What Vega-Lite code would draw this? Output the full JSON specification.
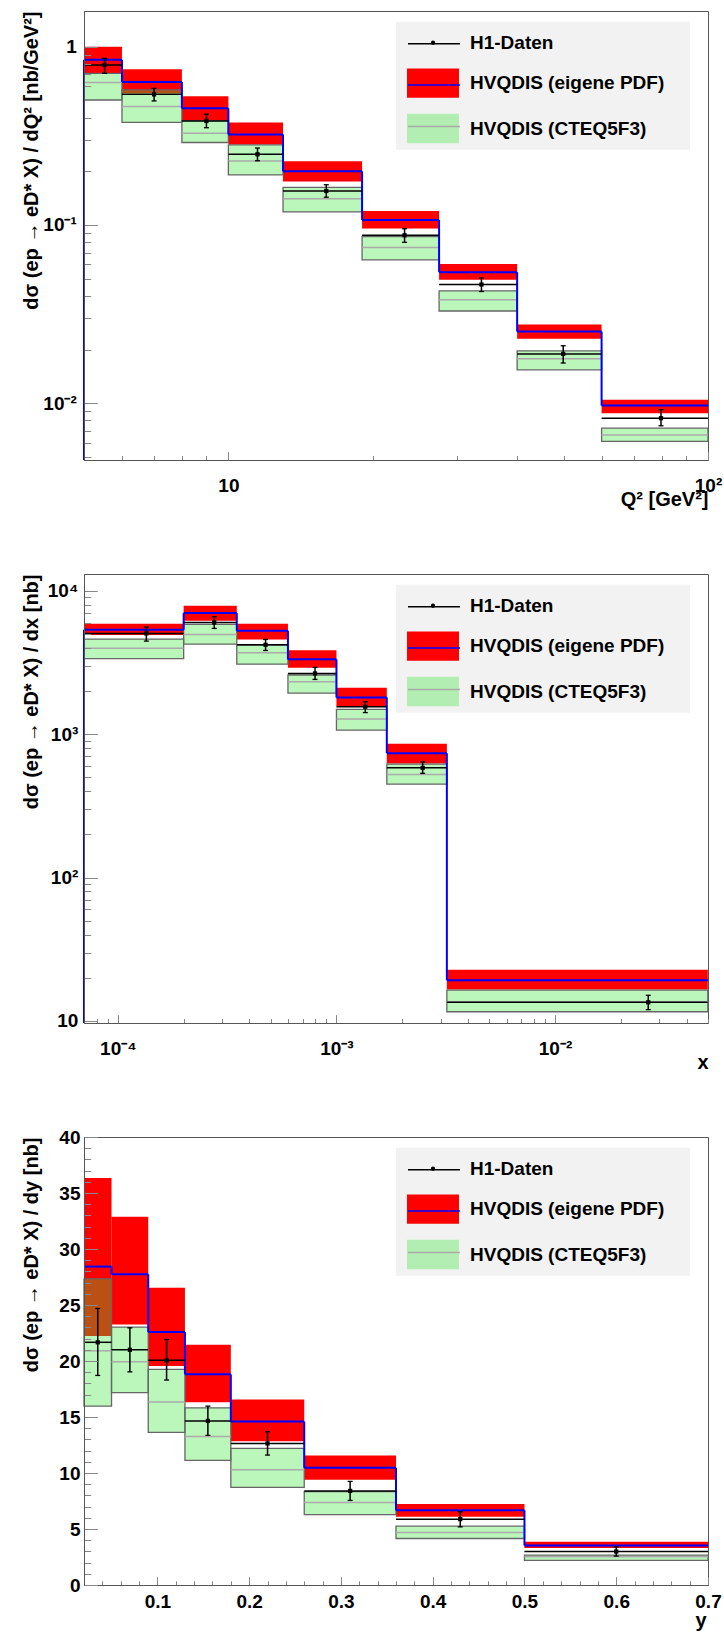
{
  "$schema": "https://vega.github.io/schema/vega-lite/v6.json",
  "autosize": {"type": "pad"},
  "padding": {"left": 20, "top": 10, "right": 0, "bottom": 0},
  "background": "white",
  "spacing": 114,
  "bounds": "flush",
  "resolve": {"scale": {"fill": "independent", "stroke": "independent"}, "legend": {"fill": "independent", "stroke": "independent"}},
  "config": {
    "view": {"stroke": "#555555", "strokeWidth": 1},
    "axis": {"labelFont": "Liberation Sans", "labelFontSize": 19, "labelFontWeight": "bold", "labelColor": "#000000", "titleFont": "Liberation Sans", "titleFontSize": 20, "titleFontWeight": "bold", "titleColor": "#000000", "grid": false, "domainColor": "#555555", "tickColor": "#888888", "tickWidth": 1, "labelFlush": false, "labelOverlap": false, "labelBound": false},
    "legend": {"labelFont": "Liberation Sans", "labelFontSize": 19, "labelFontWeight": "bold", "labelColor": "#000000", "labelLimit": 0, "padding": 6, "rowPadding": 15.4, "symbolSize": 900, "symbolOffset": 16, "labelOffset": 22, "titleFont": "Liberation Sans", "titleFontWeight": "bold"}
  },
  "vconcat": [
    {
      "width": 624, "height": 449,
      "data": {"values": [
        {"lo": 5, "hi": 6, "xc": 5.52, "rl": 0.709, "rh": 1.0, "b": 0.844, "gl": 0.502, "gh": 0.709, "gc": 0.629, "d": 0.789, "el": 0.709, "eh": 0.86},
        {"lo": 6, "hi": 8, "xc": 7.0, "rl": 0.547, "rh": 0.746, "b": 0.634, "gl": 0.376, "gh": 0.572, "gc": 0.461, "d": 0.54, "el": 0.496, "eh": 0.584},
        {"lo": 8, "hi": 10, "xc": 9.0, "rl": 0.388, "rh": 0.527, "b": 0.451, "gl": 0.29, "gh": 0.385, "gc": 0.327, "d": 0.383, "el": 0.351, "eh": 0.418},
        {"lo": 10, "hi": 13, "xc": 11.5, "rl": 0.283, "rh": 0.376, "b": 0.322, "gl": 0.191, "gh": 0.281, "gc": 0.2285, "d": 0.249, "el": 0.229, "eh": 0.27},
        {"lo": 13, "hi": 19, "xc": 16.0, "rl": 0.175, "rh": 0.2275, "b": 0.2, "gl": 0.1183, "gh": 0.1626, "gc": 0.14, "d": 0.155, "el": 0.143, "eh": 0.168},
        {"lo": 19, "hi": 27.5, "xc": 23.3, "rl": 0.0954, "rh": 0.1198, "b": 0.1067, "gl": 0.0637, "gh": 0.086, "gc": 0.0746, "d": 0.0875, "el": 0.0799, "eh": 0.0952},
        {"lo": 27.5, "hi": 40, "xc": 33.7, "rl": 0.0492, "rh": 0.0604, "b": 0.0543, "gl": 0.0329, "gh": 0.0427, "gc": 0.038, "d": 0.0463, "el": 0.0423, "eh": 0.0504},
        {"lo": 40, "hi": 60, "xc": 49.9, "rl": 0.023, "rh": 0.0276, "b": 0.0252, "gl": 0.01538, "gh": 0.01965, "gc": 0.01774, "d": 0.0189, "el": 0.0168, "eh": 0.021},
        {"lo": 60, "hi": 100, "xc": 79.8, "rl": 0.00879, "rh": 0.01044, "b": 0.0097, "gl": 0.0061, "gh": 0.00724, "gc": 0.00664, "d": 0.00824, "el": 0.00747, "eh": 0.0092}
      ]},
      "layer": [
        {"mark": {"type": "rect", "strokeWidth": 0},
         "encoding": {
           "x": {"field": "lo", "type": "quantitative", "scale": {"type": "log", "domain": [5, 100], "nice": false},
                 "axis": {"title": "Q² [GeV²]", "values": [6,7,8,9,10,20,30,40,50,60,70,80,90,100], "labelExpr": "datum.value == 10 ? '10' : datum.value == 100 ? '10²' : ''", "labelOverlap": false, "tickSize": {"condition": {"test": "datum.value == 10 || datum.value == 100", "value": -8.3}, "value": -4.5}, "labelPadding": 25, "labelBaseline": "top", "titleAnchor": "end", "titleAlign": "right", "titleBaseline": "alphabetic", "titleX": 624, "titleY": 45.3, "zindex": 1}},
           "x2": {"field": "hi"},
           "y": {"field": "rl", "type": "quantitative", "scale": {"type": "log", "domain": [0.0048, 1.585], "nice": false},
                 "axis": {"title": "dσ (ep → eD* X) / dQ² [nb/GeV²]", "values": [0.005,0.006,0.007,0.008,0.009,0.01,0.02,0.03,0.04,0.05,0.06,0.07,0.08,0.09,0.1,0.2,0.3,0.4,0.5,0.6,0.7,0.8,0.9,1], "labelExpr": "datum.value == 1 ? '1' : datum.value == 0.1 ? '10⁻¹' : datum.value == 0.01 ? '10⁻²' : ''", "labelOverlap": false, "tickSize": {"condition": {"test": "datum.value == 1 || datum.value == 0.1 || datum.value == 0.01", "value": -13.3}, "value": -6.7}, "labelPadding": 21, "titleAnchor": "end", "titleAlign": "right", "titleBaseline": "alphabetic", "titleAngle": -90, "titleX": -47, "titleY": 0, "zindex": 1}},
           "y2": {"field": "rh"},
           "fill": {"datum": "HVQDIS (eigene PDF)", "type": "nominal",
                    "scale": {"domain": ["H1-Daten", "HVQDIS (eigene PDF)", "HVQDIS (CTEQ5F3)"], "range": ["#000000", "#ff0000", "#3de53d"]},
                    "legend": {"title": "M", "titleOrient": "right", "titleOpacity": 0, "titleFontSize": 24, "titlePadding": 0, "orient": "none", "legendX": 312, "legendY": 10.7, "fillColor": "#f2f2f2", "zindex": 2, "symbolStrokeWidth": 0,
                               "encode": {"symbols": {"update": {"shape": {"signal": "datum.value === 'H1-Daten' ? 'M-0.14,0A0.14,0.14,0,1,1,0.14,0A0.14,0.14,0,1,1,-0.14,0Z' : 'M-1.733,-0.977H1.733V0.977H-1.733Z'"}, "fillOpacity": {"signal": "datum.value === 'HVQDIS (CTEQ5F3)' ? 0.35 : 1"}, "strokeWidth": {"value": 0}}}}}}
         }},
        {"mark": {"type": "rect", "fillOpacity": 0.35, "stroke": "#666666", "strokeWidth": 1.3},
         "encoding": {"x": {"field": "lo", "type": "quantitative"}, "x2": {"field": "hi"}, "y": {"field": "gl", "type": "quantitative"}, "y2": {"field": "gh"}, "fill": {"datum": "HVQDIS (CTEQ5F3)", "type": "nominal"}}},
        {"mark": {"type": "rule", "strokeWidth": 1.5},
         "encoding": {"x": {"field": "lo", "type": "quantitative"}, "x2": {"field": "hi"}, "y": {"field": "gc", "type": "quantitative"},
           "stroke": {"datum": "L3", "type": "nominal", "scale": {"domain": ["L1", "L2", "L3"], "range": ["#000000", "#0000ff", "#aaaaaa"]},
                      "legend": {"title": null, "orient": "none", "legendX": 312, "legendY": 10.7, "zindex": 3, "labelExpr": "''", "symbolType": "M-1.733,0H1.733", "symbolStrokeWidth": 1.5}}}},
        {"mark": {"type": "rule", "strokeWidth": 2},
         "encoding": {"x": {"field": "lo", "type": "quantitative"}, "x2": {"field": "hi"}, "y": {"field": "b", "type": "quantitative"}, "stroke": {"datum": "L2", "type": "nominal"}}},
        {"transform": [{"window": [{"op": "lead", "field": "b", "as": "nb"}], "sort": [{"field": "lo"}]}, {"filter": "isValid(datum.nb)"}],
         "mark": {"type": "rule", "strokeWidth": 2},
         "encoding": {"x": {"field": "hi", "type": "quantitative"}, "y": {"field": "b", "type": "quantitative"}, "y2": {"field": "nb"}, "stroke": {"datum": "L2", "type": "nominal"}}},
        {"transform": [{"window": [{"op": "row_number", "as": "rn"}], "sort": [{"field": "lo"}]}, {"filter": "datum.rn == 1"}],
         "mark": {"type": "rule", "strokeWidth": 2},
         "encoding": {"x": {"field": "lo", "type": "quantitative"}, "y": {"field": "b", "type": "quantitative"}, "y2": {"datum": 0.0048}, "stroke": {"datum": "L2", "type": "nominal"}}},
        {"mark": {"type": "rule", "strokeWidth": 1.5},
         "encoding": {"x": {"field": "lo", "type": "quantitative"}, "x2": {"field": "hi"}, "y": {"field": "d", "type": "quantitative"}, "stroke": {"datum": "L1", "type": "nominal"}}},
        {"mark": {"type": "rule", "strokeWidth": 1.5},
         "encoding": {"x": {"field": "xc", "type": "quantitative"}, "y": {"field": "el", "type": "quantitative"}, "y2": {"field": "eh"}, "stroke": {"datum": "L1", "type": "nominal"}}},
        {"mark": {"type": "tick", "orient": "horizontal", "size": 5, "thickness": 1.3, "color": "#000000", "opacity": 1},
         "encoding": {"x": {"field": "xc", "type": "quantitative"}, "y": {"field": "el", "type": "quantitative"}}},
        {"mark": {"type": "tick", "orient": "horizontal", "size": 5, "thickness": 1.3, "color": "#000000", "opacity": 1},
         "encoding": {"x": {"field": "xc", "type": "quantitative"}, "y": {"field": "eh", "type": "quantitative"}}},
        {"mark": {"type": "point", "shape": "square", "size": 18, "filled": true, "opacity": 1},
         "encoding": {"x": {"field": "xc", "type": "quantitative"}, "y": {"field": "d", "type": "quantitative"}, "fill": {"datum": "H1-Daten", "type": "nominal"}}}
      ]
    },
    {
      "width": 624, "height": 449,
      "data": {"values": [
        {"lo": 0.00007, "hi": 0.0002, "xc": 0.000135, "rl": 4909, "rh": 5888, "b": 5347, "gl": 3357, "gh": 4603, "gc": 3963, "d": 5037, "el": 4452, "eh": 5578},
        {"lo": 0.0002, "hi": 0.00035, "xc": 0.000276, "rl": 6178, "rh": 7852, "b": 6982, "gl": 4245, "gh": 5822, "gc": 4955, "d": 6012, "el": 5458, "eh": 6585},
        {"lo": 0.00035, "hi": 0.0006, "xc": 0.000474, "rl": 4571, "rh": 5888, "b": 5263, "gl": 3076, "gh": 4178, "gc": 3690, "d": 4198, "el": 3831, "eh": 4571},
        {"lo": 0.0006, "hi": 0.001, "xc": 0.000798, "rl": 2904, "rh": 3837, "b": 3321, "gl": 1933, "gh": 2583, "gc": 2318, "d": 2650, "el": 2407, "eh": 2919},
        {"lo": 0.001, "hi": 0.0017, "xc": 0.001355, "rl": 1567, "rh": 2105, "b": 1802, "gl": 1067, "gh": 1487, "gc": 1274, "d": 1553, "el": 1413, "eh": 1679},
        {"lo": 0.0017, "hi": 0.0032, "xc": 0.00248, "rl": 624, "rh": 857, "b": 737, "gl": 448, "gh": 618, "gc": 524, "d": 582, "el": 533, "eh": 640},
        {"lo": 0.0032, "hi": 0.05, "xc": 0.0267, "rl": 16.6, "rh": 22.8, "b": 19.2, "gl": 11.6, "gh": 16.4, "gc": 13.6, "d": 13.5, "el": 12.0, "eh": 15.1}
      ]},
      "layer": [
        {"mark": {"type": "rect", "strokeWidth": 0},
         "encoding": {
           "x": {"field": "lo", "type": "quantitative", "scale": {"type": "log", "domain": [0.00007, 0.0501], "nice": false},
                 "axis": {"title": "x", "values": [0.00008,0.00009,0.0001,0.0002,0.0003,0.0004,0.0005,0.0006,0.0007,0.0008,0.0009,0.001,0.002,0.003,0.004,0.005,0.006,0.007,0.008,0.009,0.01,0.02,0.03,0.04,0.05], "labelExpr": "datum.value == 0.0001 ? '10⁻⁴' : datum.value == 0.001 ? '10⁻³' : datum.value == 0.01 ? '10⁻²' : ''", "labelOverlap": false, "tickSize": {"condition": {"test": "datum.value == 0.0001 || datum.value == 0.001 || datum.value == 0.01", "value": -8.3}, "value": -4.5}, "labelPadding": 25, "labelBaseline": "top", "titleAnchor": "end", "titleAlign": "right", "titleBaseline": "alphabetic", "titleX": 624, "titleY": 45.3, "zindex": 1}},
           "x2": {"field": "hi"},
           "y": {"field": "rl", "type": "quantitative", "scale": {"type": "log", "domain": [9.68, 13077], "nice": false},
                 "axis": {"title": "dσ (ep → eD* X) / dx [nb]", "values": [10,20,30,40,50,60,70,80,90,100,200,300,400,500,600,700,800,900,1000,2000,3000,4000,5000,6000,7000,8000,9000,10000], "labelExpr": "datum.value == 10 ? '10' : datum.value == 100 ? '10²' : datum.value == 1000 ? '10³' : datum.value == 10000 ? '10⁴' : ''", "labelOverlap": false, "tickSize": {"condition": {"test": "datum.value == 10 || datum.value == 100 || datum.value == 1000 || datum.value == 10000", "value": -13.3}, "value": -6.7}, "labelPadding": 19.5, "titleAnchor": "end", "titleAlign": "right", "titleBaseline": "alphabetic", "titleAngle": -90, "titleX": -47, "titleY": 0, "zindex": 1}},
           "y2": {"field": "rh"},
           "fill": {"datum": "HVQDIS (eigene PDF)", "type": "nominal",
                    "scale": {"domain": ["H1-Daten", "HVQDIS (eigene PDF)", "HVQDIS (CTEQ5F3)"], "range": ["#000000", "#ff0000", "#3de53d"]},
                    "legend": {"title": "M", "titleOrient": "right", "titleOpacity": 0, "titleFontSize": 24, "titlePadding": 0, "orient": "none", "legendX": 312, "legendY": 10.7, "fillColor": "#f2f2f2", "zindex": 2, "symbolStrokeWidth": 0,
                               "encode": {"symbols": {"update": {"shape": {"signal": "datum.value === 'H1-Daten' ? 'M-0.14,0A0.14,0.14,0,1,1,0.14,0A0.14,0.14,0,1,1,-0.14,0Z' : 'M-1.733,-0.977H1.733V0.977H-1.733Z'"}, "fillOpacity": {"signal": "datum.value === 'HVQDIS (CTEQ5F3)' ? 0.35 : 1"}, "strokeWidth": {"value": 0}}}}}}
         }},
        {"mark": {"type": "rect", "fillOpacity": 0.35, "stroke": "#666666", "strokeWidth": 1.3},
         "encoding": {"x": {"field": "lo", "type": "quantitative"}, "x2": {"field": "hi"}, "y": {"field": "gl", "type": "quantitative"}, "y2": {"field": "gh"}, "fill": {"datum": "HVQDIS (CTEQ5F3)", "type": "nominal"}}},
        {"mark": {"type": "rule", "strokeWidth": 1.5},
         "encoding": {"x": {"field": "lo", "type": "quantitative"}, "x2": {"field": "hi"}, "y": {"field": "gc", "type": "quantitative"},
           "stroke": {"datum": "L3", "type": "nominal", "scale": {"domain": ["L1", "L2", "L3"], "range": ["#000000", "#0000ff", "#aaaaaa"]},
                      "legend": {"title": null, "orient": "none", "legendX": 312, "legendY": 10.7, "zindex": 3, "labelExpr": "''", "symbolType": "M-1.733,0H1.733", "symbolStrokeWidth": 1.5}}}},
        {"mark": {"type": "rule", "strokeWidth": 2},
         "encoding": {"x": {"field": "lo", "type": "quantitative"}, "x2": {"field": "hi"}, "y": {"field": "b", "type": "quantitative"}, "stroke": {"datum": "L2", "type": "nominal"}}},
        {"transform": [{"window": [{"op": "lead", "field": "b", "as": "nb"}], "sort": [{"field": "lo"}]}, {"filter": "isValid(datum.nb)"}],
         "mark": {"type": "rule", "strokeWidth": 2},
         "encoding": {"x": {"field": "hi", "type": "quantitative"}, "y": {"field": "b", "type": "quantitative"}, "y2": {"field": "nb"}, "stroke": {"datum": "L2", "type": "nominal"}}},
        {"transform": [{"window": [{"op": "row_number", "as": "rn"}], "sort": [{"field": "lo"}]}, {"filter": "datum.rn == 1"}],
         "mark": {"type": "rule", "strokeWidth": 2},
         "encoding": {"x": {"field": "lo", "type": "quantitative"}, "y": {"field": "b", "type": "quantitative"}, "y2": {"datum": 9.68}, "stroke": {"datum": "L2", "type": "nominal"}}},
        {"mark": {"type": "rule", "strokeWidth": 1.5},
         "encoding": {"x": {"field": "lo", "type": "quantitative"}, "x2": {"field": "hi"}, "y": {"field": "d", "type": "quantitative"}, "stroke": {"datum": "L1", "type": "nominal"}}},
        {"mark": {"type": "rule", "strokeWidth": 1.5},
         "encoding": {"x": {"field": "xc", "type": "quantitative"}, "y": {"field": "el", "type": "quantitative"}, "y2": {"field": "eh"}, "stroke": {"datum": "L1", "type": "nominal"}}},
        {"mark": {"type": "tick", "orient": "horizontal", "size": 5, "thickness": 1.3, "color": "#000000", "opacity": 1},
         "encoding": {"x": {"field": "xc", "type": "quantitative"}, "y": {"field": "el", "type": "quantitative"}}},
        {"mark": {"type": "tick", "orient": "horizontal", "size": 5, "thickness": 1.3, "color": "#000000", "opacity": 1},
         "encoding": {"x": {"field": "xc", "type": "quantitative"}, "y": {"field": "eh", "type": "quantitative"}}},
        {"mark": {"type": "point", "shape": "square", "size": 18, "filled": true, "opacity": 1},
         "encoding": {"x": {"field": "xc", "type": "quantitative"}, "y": {"field": "d", "type": "quantitative"}, "fill": {"datum": "H1-Daten", "type": "nominal"}}}
      ]
    },
    {
      "width": 624, "height": 448,
      "data": {"values": [
        {"lo": 0.02, "hi": 0.05, "xc": 0.035, "rl": 22.23, "rh": 36.35, "b": 28.43, "gl": 15.97, "gh": 27.33, "gc": 20.91, "d": 21.67, "el": 18.71, "eh": 24.69},
        {"lo": 0.05, "hi": 0.09, "xc": 0.07, "rl": 23.27, "rh": 32.89, "b": 27.74, "gl": 17.17, "gh": 23.02, "gc": 19.94, "d": 21.0, "el": 19.03, "eh": 22.96},
        {"lo": 0.09, "hi": 0.13, "xc": 0.11, "rl": 19.56, "rh": 26.54, "b": 22.58, "gl": 13.62, "gh": 19.25, "gc": 16.35, "d": 20.06, "el": 18.3, "eh": 21.92},
        {"lo": 0.13, "hi": 0.18, "xc": 0.155, "rl": 16.32, "rh": 21.45, "b": 18.81, "gl": 11.13, "gh": 15.82, "gc": 13.27, "d": 14.65, "el": 13.36, "eh": 15.97},
        {"lo": 0.18, "hi": 0.26, "xc": 0.22, "rl": 12.83, "rh": 16.57, "b": 14.59, "gl": 8.71, "gh": 12.2, "gc": 10.28, "d": 12.64, "el": 11.6, "eh": 13.68},
        {"lo": 0.26, "hi": 0.36, "xc": 0.31, "rl": 9.4, "rh": 11.57, "b": 10.47, "gl": 6.29, "gh": 8.33, "gc": 7.36, "d": 8.4, "el": 7.55, "eh": 9.25},
        {"lo": 0.36, "hi": 0.5, "xc": 0.43, "rl": 6.1, "rh": 7.23, "b": 6.67, "gl": 4.15, "gh": 5.25, "gc": 4.69, "d": 5.88, "el": 5.19, "eh": 6.54},
        {"lo": 0.5, "hi": 0.7, "xc": 0.6, "rl": 3.3, "rh": 3.87, "b": 3.52, "gl": 2.2, "gh": 2.67, "gc": 2.52, "d": 2.99, "el": 2.58, "eh": 3.4}
      ]},
      "layer": [
        {"mark": {"type": "rect", "strokeWidth": 0},
         "encoding": {
           "x": {"field": "lo", "type": "quantitative", "scale": {"domain": [0.02, 0.7], "nice": false, "zero": false},
                 "axis": {"title": "y", "tickCount": 200, "values": [0.04,0.06,0.08,0.1,0.12,0.14,0.16,0.18,0.2,0.22,0.24,0.26,0.28,0.3,0.32,0.34,0.36,0.38,0.4,0.42,0.44,0.46,0.48,0.5,0.52,0.54,0.56,0.58,0.6,0.62,0.64,0.66,0.68,0.7], "labelExpr": "abs(datum.value*10 - round(datum.value*10)) < 0.001 ? format(datum.value, '.1f') : ''", "labelOverlap": false, "tickSize": {"condition": {"test": "abs(datum.value*10 - round(datum.value*10)) < 0.001", "value": -8.3}, "value": -4.2}, "labelPadding": 15.3, "labelBaseline": "top", "titleAnchor": "end", "titleAlign": "right", "titleBaseline": "alphabetic", "titleX": 622, "titleY": 41.7, "zindex": 1}},
           "x2": {"field": "hi"},
           "y": {"field": "rl", "type": "quantitative", "scale": {"domain": [0, 40], "nice": false},
                 "axis": {"title": "dσ (ep → eD* X) / dy [nb]", "tickCount": 200, "values": [0,1,2,3,4,5,6,7,8,9,10,11,12,13,14,15,16,17,18,19,20,21,22,23,24,25,26,27,28,29,30,31,32,33,34,35,36,37,38,39,40], "labelExpr": "datum.value % 5 == 0 ? format(datum.value, 'd') : ''", "labelOverlap": false, "tickSize": {"condition": {"test": "datum.value % 5 == 0", "value": -13.3}, "value": -6.7}, "labelPadding": 17.3, "titleAnchor": "end", "titleAlign": "right", "titleBaseline": "alphabetic", "titleAngle": -90, "titleX": -47, "titleY": 0, "zindex": 1}},
           "y2": {"field": "rh"},
           "fill": {"datum": "HVQDIS (eigene PDF)", "type": "nominal",
                    "scale": {"domain": ["H1-Daten", "HVQDIS (eigene PDF)", "HVQDIS (CTEQ5F3)"], "range": ["#000000", "#ff0000", "#3de53d"]},
                    "legend": {"title": "M", "titleOrient": "right", "titleOpacity": 0, "titleFontSize": 24, "titlePadding": 0, "orient": "none", "legendX": 312, "legendY": 10.7, "fillColor": "#f2f2f2", "zindex": 2, "symbolStrokeWidth": 0,
                               "encode": {"symbols": {"update": {"shape": {"signal": "datum.value === 'H1-Daten' ? 'M-0.14,0A0.14,0.14,0,1,1,0.14,0A0.14,0.14,0,1,1,-0.14,0Z' : 'M-1.733,-0.977H1.733V0.977H-1.733Z'"}, "fillOpacity": {"signal": "datum.value === 'HVQDIS (CTEQ5F3)' ? 0.35 : 1"}, "strokeWidth": {"value": 0}}}}}}
         }},
        {"mark": {"type": "rect", "fillOpacity": 0.35, "stroke": "#666666", "strokeWidth": 1.3},
         "encoding": {"x": {"field": "lo", "type": "quantitative"}, "x2": {"field": "hi"}, "y": {"field": "gl", "type": "quantitative"}, "y2": {"field": "gh"}, "fill": {"datum": "HVQDIS (CTEQ5F3)", "type": "nominal"}}},
        {"mark": {"type": "rule", "strokeWidth": 1.5},
         "encoding": {"x": {"field": "lo", "type": "quantitative"}, "x2": {"field": "hi"}, "y": {"field": "gc", "type": "quantitative"},
           "stroke": {"datum": "L3", "type": "nominal", "scale": {"domain": ["L1", "L2", "L3"], "range": ["#000000", "#0000ff", "#aaaaaa"]},
                      "legend": {"title": null, "orient": "none", "legendX": 312, "legendY": 10.7, "zindex": 3, "labelExpr": "''", "symbolType": "M-1.733,0H1.733", "symbolStrokeWidth": 1.5}}}},
        {"mark": {"type": "rule", "strokeWidth": 2},
         "encoding": {"x": {"field": "lo", "type": "quantitative"}, "x2": {"field": "hi"}, "y": {"field": "b", "type": "quantitative"}, "stroke": {"datum": "L2", "type": "nominal"}}},
        {"transform": [{"window": [{"op": "lead", "field": "b", "as": "nb"}], "sort": [{"field": "lo"}]}, {"filter": "isValid(datum.nb)"}],
         "mark": {"type": "rule", "strokeWidth": 2},
         "encoding": {"x": {"field": "hi", "type": "quantitative"}, "y": {"field": "b", "type": "quantitative"}, "y2": {"field": "nb"}, "stroke": {"datum": "L2", "type": "nominal"}}},
        {"mark": {"type": "rule", "strokeWidth": 1.5},
         "encoding": {"x": {"field": "lo", "type": "quantitative"}, "x2": {"field": "hi"}, "y": {"field": "d", "type": "quantitative"}, "stroke": {"datum": "L1", "type": "nominal"}}},
        {"mark": {"type": "rule", "strokeWidth": 1.5},
         "encoding": {"x": {"field": "xc", "type": "quantitative"}, "y": {"field": "el", "type": "quantitative"}, "y2": {"field": "eh"}, "stroke": {"datum": "L1", "type": "nominal"}}},
        {"mark": {"type": "tick", "orient": "horizontal", "size": 5, "thickness": 1.3, "color": "#000000", "opacity": 1},
         "encoding": {"x": {"field": "xc", "type": "quantitative"}, "y": {"field": "el", "type": "quantitative"}}},
        {"mark": {"type": "tick", "orient": "horizontal", "size": 5, "thickness": 1.3, "color": "#000000", "opacity": 1},
         "encoding": {"x": {"field": "xc", "type": "quantitative"}, "y": {"field": "eh", "type": "quantitative"}}},
        {"mark": {"type": "point", "shape": "square", "size": 18, "filled": true, "opacity": 1},
         "encoding": {"x": {"field": "xc", "type": "quantitative"}, "y": {"field": "d", "type": "quantitative"}, "fill": {"datum": "H1-Daten", "type": "nominal"}}}
      ]
    }
  ]
}
